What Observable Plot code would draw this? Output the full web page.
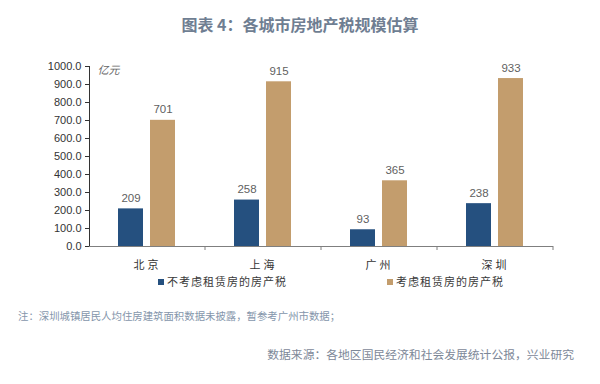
<!DOCTYPE html>
<html><head><meta charset="utf-8">
<script src="https://cdn.jsdelivr.net/npm/d3@7"></script>
<script src="https://cdn.jsdelivr.net/npm/@observablehq/plot@0.6"></script>
<style>
body{margin:0;background:#fff;width:600px;height:384px;overflow:hidden;position:relative;font-family:"Liberation Sans","Noto Sans CJK SC",sans-serif;}
#title{position:absolute;left:0;top:12px;width:600px;text-align:center;font-family:"Noto Sans CJK SC",sans-serif;font-size:16px;font-weight:bold;color:#6f7e92;line-height:24px;}
#chart{position:absolute;left:0;top:48px;}
#legend{position:absolute;left:0;top:272px;width:600px;height:18px;font-family:"Noto Sans CJK SC",sans-serif;font-size:11px;letter-spacing:1px;color:#3a3a3a;}
.li{position:absolute;top:0;line-height:18px;}
.sw{display:inline-block;width:6px;height:6px;margin-right:3px;vertical-align:middle;position:relative;top:-1px;}
#note{position:absolute;left:18px;top:308px;font-family:"Noto Sans CJK SC",sans-serif;font-size:10.4px;color:#8596ab;line-height:16px;white-space:nowrap;}
#source{position:absolute;right:26px;top:346px;font-family:"Noto Sans CJK SC",sans-serif;font-size:11.8px;color:#7d8898;line-height:16px;white-space:nowrap;}
g[aria-label="fx-axis tick label"] text{letter-spacing:3px;}
</style>
</head><body>
<div id="title"></div>
<div id="chart"></div>
<div id="legend"></div>
<div id="note"></div>
<div id="source"></div>
<script>
const titleText = "图表 4：各城市房地产税规模估算";
const unitLabel = "亿元";
const cities = ["北京", "上海", "广州", "深圳"];
const seriesNames = ["不考虑租赁房的房产税", "考虑租赁房的房产税"];
const excludeRental = [209, 258, 93, 238];
const includeRental = [701, 915, 365, 933];
const yTicks = [0, 100, 200, 300, 400, 500, 600, 700, 800, 900, 1000];
const colors = ["#25507f", "#c39d6d"];
const noteText = "注：深圳城镇居民人均住房建筑面积数据未披露，暂参考广州市数据；";
const sourceText = "数据来源：各地区国民经济和社会发展统计公报，兴业研究";

const data = cities.flatMap((c, i) => [
  {city: c, series: seriesNames[0], value: excludeRental[i]},
  {city: c, series: seriesNames[1], value: includeRental[i]}
]);

document.getElementById("title").textContent = titleText;
document.getElementById("note").textContent = noteText;
document.getElementById("source").textContent = sourceText;

const legend = document.getElementById("legend");
const legendX = [158, 387];
seriesNames.forEach((s, i) => {
  const item = document.createElement("div");
  item.className = "li";
  item.style.left = legendX[i] + "px";
  const sw = document.createElement("span");
  sw.className = "sw";
  sw.style.background = colors[i];
  item.appendChild(sw);
  item.appendChild(document.createTextNode(s));
  legend.appendChild(item);
});

function boundaryTick(index, scales, values, dims) {
  const g = d3.create("svg:g");
  const x = dims.width - dims.marginRight;
  const y = dims.height - dims.marginBottom;
  g.append("line").attr("x1", x).attr("x2", x).attr("y1", y).attr("y2", y + 4)
    .attr("stroke", "#7f7f7f");
  return g.node();
}

const chart = Plot.plot({
  width: 600,
  height: 228,
  marginTop: 18,
  marginBottom: 30,
  marginLeft: 89,
  marginRight: 47,
  style: {fontFamily: "'Liberation Sans','Noto Sans CJK SC',sans-serif", fontSize: "11px", color: "#333", background: "transparent"},
  fx: {domain: cities, padding: 0, label: null, tickSize: 0, tickPadding: 15, fontSize: 12},
  x: {domain: seriesNames, paddingInner: 0.212, paddingOuter: 0.864, axis: null},
  y: {domain: [0, 1000], ticks: yTicks, tickFormat: d3.format(".1f"), label: null, line: true, tickSize: 4, tickPadding: 4},
  color: {domain: seriesNames, range: colors},
  marks: [
    Plot.barY(data, {fx: "city", x: "series", y: "value", fill: "series"}),
    Plot.text(data, {fx: "city", x: "series", y: "value", text: d => String(d.value), lineAnchor: "bottom", dy: -7, fill: "#5f5f5f", fontSize: 11.5}),
    Plot.ruleY([0], {stroke: "#7f7f7f"}),
    Plot.text([cities[0]], {fx: d => d, frameAnchor: "top-left", textAnchor: "start", dx: 8, text: () => unitLabel, fill: "#666", fontSize: 11, fontStyle: "italic"}),
    boundaryTick
  ]
});
document.getElementById("chart").appendChild(chart);
</script>
</body></html>
